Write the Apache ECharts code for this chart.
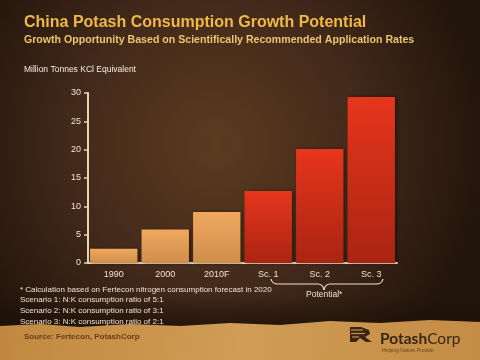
<!DOCTYPE html>
<html>
<head>
<meta charset="utf-8">
<script src="https://cdn.jsdelivr.net/npm/echarts@6/dist/echarts.min.js"></script>
<style>html,body{margin:0;padding:0;background:#3a2414;}#c{width:480px;height:360px;}</style>
</head>
<body>
<div id="c"></div>
<script>
const categories = ['1990', '2000', '2010F', 'Sc. 1', 'Sc. 2', 'Sc. 3'];
const consumption = [2.5, 5.9, 9.0, 12.7, 20.1, 29.3];
const yTicks = [0, 5, 10, 15, 20, 25, 30];
const footnotes = [
  '* Calculation based on Fertecon nitrogen consumption forecast in 2020',
  'Scenario 1: N:K consumption ratio of 5:1',
  'Scenario 2: N:K consumption ratio of 3:1',
  'Scenario 3: N:K consumption ratio of 2:1'
];

const tanGrad = new echarts.graphic.LinearGradient(0, 0, 0, 1, [
  {offset: 0, color: '#f0a85e'}, {offset: 1, color: '#cf8e4c'}
]);
const redGrad = new echarts.graphic.LinearGradient(0, 0, 0, 1, [
  {offset: 0, color: '#e6361c'}, {offset: 1, color: '#aa2412'}
]);

const chart = echarts.init(document.getElementById('c'), null, {renderer: 'canvas'});
const FF = '"Liberation Sans", Arial, sans-serif';
const footText = footnotes.map((t, i) => ({
  type: 'text', x: 20, y: 285.5 + i * 10.6, z: 5,
  style: {text: t, fill: '#efe2d2', fontSize: 8, fontFamily: FF}
}));
const braceStyle = {stroke: '#efe2d2', lineWidth: 1.2, fill: null};
function curve(x1, y1, cx, cy, x2, y2) {
  return {type: 'bezierCurve', z: 5, shape: {x1, y1, cpx1: cx, cpy1: cy, x2, y2}, style: braceStyle};
}
function seg(x1, y1, x2, y2, st) {
  return {type: 'line', z: 5, shape: {x1, y1, x2, y2}, style: st || braceStyle};
}

chart.setOption({
  animation: false,
  graphic: [
    {type: 'rect', shape: {x: 0, y: 0, width: 480, height: 360}, z: -10, silent: true,
      style: {fill: new echarts.graphic.RadialGradient(0.45, 0.4, 0.75, [
        {offset: 0, color: '#5c3b1f'}, {offset: 0.55, color: '#42291a'}, {offset: 1, color: '#22150c'}
      ])}},
    {type: 'rect', shape: {x: 0, y: 295, width: 480, height: 33}, z: -9, silent: true,
      style: {fill: new echarts.graphic.LinearGradient(0, 0, 0, 1, [
        {offset: 0, color: 'rgba(28,16,8,0)'}, {offset: 1, color: 'rgba(28,16,8,0.75)'}
      ])}},
    {type: 'polygon', z: -8, silent: true,
      shape: {points: [[0,326],[40,324],[80,327],[130,324],[180,326],[230,323],[280,325],[330,321],[380,323],[430,320],[480,322],[480,360],[0,360]]},
      style: {fill: new echarts.graphic.LinearGradient(0, 0, 1, 1, [
        {offset: 0, color: '#c2883f'}, {offset: 0.5, color: '#d09c56'}, {offset: 1, color: '#c48c44'}
      ])}},
    {type: 'text', x: 24, y: 15, z: 5,
      style: {text: 'China Potash Consumption Growth Potential', fill: '#f0b848',
        fontSize: 16, fontWeight: 'bold', fontFamily: FF}},
    {type: 'text', x: 24, y: 35, z: 5,
      style: {text: 'Growth Opportunity Based on Scientifically Recommended Application Rates', fill: '#ecc470',
        fontSize: 10.6, fontWeight: 'bold', fontFamily: FF}},
    {type: 'text', x: 24, y: 65, z: 5,
      style: {text: 'Million Tonnes KCl Equivalent', fill: '#f4ece4', fontSize: 8.5, fontFamily: FF}},
    ...footText,
    curve(271, 279, 272, 284, 278, 284),
    seg(278, 284, 318, 284),
    curve(318, 284, 323, 284, 324, 290),
    curve(324, 290, 325, 284, 330, 284),
    seg(330, 284, 376, 284),
    curve(376, 284, 382, 284, 383, 279),
    {type: 'text', x: 306, y: 290, z: 5,
      style: {text: 'Potential*', fill: '#efe2d2', fontSize: 8.5, fontFamily: FF}},
    {type: 'text', x: 24, y: 333, z: 5,
      style: {text: 'Source: Fertecon, PotashCorp', fill: '#6a3c14', fontSize: 8, fontWeight: 'bold', fontFamily: FF}},
    {type: 'polygon', z: 5, shape: {points: [[350,327],[361,327],[369,330],[370,334],[365,337],[372,342],[366,342],[360,338],[356,342],[350,342]]},
      style: {fill: '#3a2414'}},
    seg(351, 330, 363, 330, {stroke: '#c89048', lineWidth: 1.2}),
    seg(351, 333.5, 365, 333.5, {stroke: '#c89048', lineWidth: 1.2}),
    seg(352, 337, 359, 337, {stroke: '#c89048', lineWidth: 1.2}),
    {type: 'text', x: 380, y: 331, z: 5,
      style: {rich: {a: {fontWeight: 'bold', fontSize: 15.5, fill: '#3a2414', fontFamily: 'Lato, "Liberation Sans", sans-serif'},
                     b: {fontSize: 15.5, fill: '#3a2414', fontFamily: 'Lato, "Liberation Sans", sans-serif'}},
        text: '{a|Potash}{b|Corp}'}},
    {type: 'text', x: 382, y: 348, z: 5,
      style: {text: 'Helping Nature Provide', fill: '#6a4418', fontSize: 5, fontFamily: FF}}
  ],
  grid: {left: 88, right: 83, top: 93, bottom: 97, containLabel: false},
  xAxis: {
    type: 'category', data: categories,
    axisLine: {lineStyle: {color: '#ead4b4', width: 2}},
    axisTick: {show: false},
    axisLabel: {color: '#efe2d2', fontSize: 9, margin: 7, fontFamily: FF}
  },
  yAxis: {
    type: 'value', min: 0, max: 30, interval: 5,
    splitLine: {show: false},
    axisLine: {show: true, lineStyle: {color: '#ead4b4', width: 2}},
    axisTick: {show: true, length: 4, lineStyle: {color: '#ead4b4', width: 1.5}},
    axisLabel: {color: '#efe2d2', fontSize: 9, margin: 7, fontFamily: FF,
      formatter: v => yTicks.includes(v) ? String(v) : ''}
  },
  series: [{
    type: 'bar', barCategoryGap: '8%',
    data: consumption.map((v, i) => ({value: v, itemStyle: {color: i < 3 ? tanGrad : redGrad}})),
    itemStyle: {shadowColor: 'rgba(0,0,0,0.4)', shadowBlur: 4, shadowOffsetX: 2}
  }]
});
</script>
</body>
</html>
